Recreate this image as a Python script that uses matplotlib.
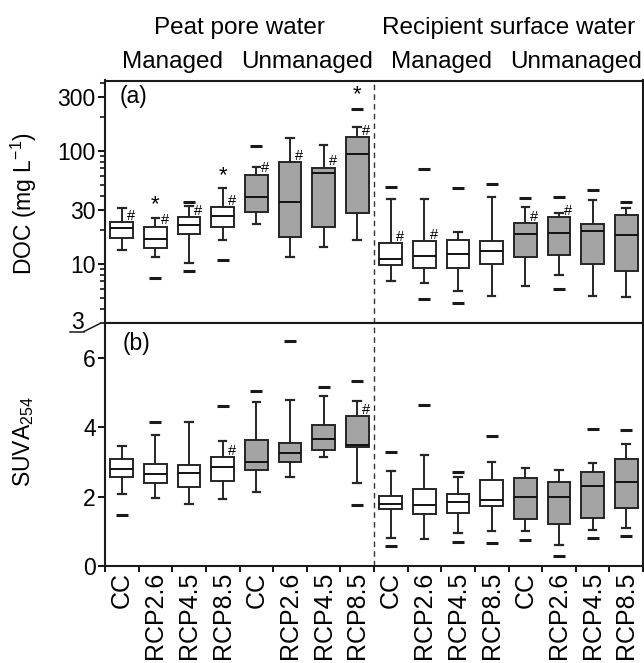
import matplotlib
matplotlib.use("Agg")
import matplotlib.pyplot as plt
import matplotlib.transforms as mtransforms
from matplotlib.lines import Line2D
from matplotlib.ticker import LogLocator, FixedLocator, NullFormatter, FixedFormatter

plt.rcParams['font.family'] = ['Liberation Sans', 'DejaVu Sans']
plt.rcParams['mathtext.fontset'] = 'custom'
plt.rcParams['mathtext.rm'] = 'Liberation Sans'
plt.rcParams['mathtext.it'] = 'Liberation Sans:italic'

# ---------------- data ----------------
scenarios = ["CC", "RCP2.6", "RCP4.5", "RCP8.5"] * 4
group_top = ["Peat pore water", "Recipient surface water"]
group_sub = ["Managed", "Unmanaged", "Managed", "Unmanaged"]
shaded = [False] * 4 + [True] * 4 + [False] * 4 + [True] * 4

# (a) DOC, mg L-1
doc_med = [20.7, 16.6, 22.1, 26.7, 39.4, 35.6, 63.5, 94.0, 11.0, 11.8, 12.3, 12.9, 18.4, 18.9, 19.7, 18.1]
doc_q1 = [16.9, 13.8, 18.3, 21.4, 29.0, 17.2, 21.1, 28.4, 9.8, 9.2, 9.2, 10.0, 11.6, 12.0, 10.0, 8.7]
doc_q3 = [23.4, 21.4, 25.9, 32.1, 61.3, 79.4, 70.3, 132.0, 15.4, 16.0, 16.3, 16.1, 22.9, 25.9, 22.6, 27.2]
doc_lo = [13.3, 11.6, 10.1, 16.3, 22.6, 11.5, 14.1, 16.3, 7.1, 6.8, 5.8, 5.2, 6.4, 8.0, 5.2, 5.1]
doc_hi = [31.5, 25.5, 32.8, 46.8, 71.7, 129.5, 113.0, 164.0, 37.4, 37.4, 19.3, 39.4, 31.8, 28.1, 36.8, 31.1]
doc_out = [[], [7.5], [35.6, 8.7], [10.8], [110.7], [], [], [234.0], [48.3], [69.3, 4.9], [46.8, 4.5],
           [51.0], [38.1], [39.4, 6.0], [45.2], [35.6]]
doc_star_idx = [1, 3, 7]
doc_star_val = [38.9, 68.9, 359.0]
doc_hash_idx = [0, 1, 2, 3, 4, 5, 6, 7, 8, 9, 12, 13]
doc_hash_val = [27.2, 24.9, 29.7, 36.8, 71.8, 92.2, 83.3, 153.0, 17.8, 18.4, 26.6, 29.7]

# (b) SUVA254
suva_med = [2.78, 2.66, 2.69, 2.85, 2.99, 3.25, 3.65, 3.49, 1.80, 1.76, 1.85, 1.91, 2.00, 2.00, 2.30, 2.41]
suva_q1 = [2.56, 2.40, 2.28, 2.46, 2.76, 3.01, 3.34, 3.43, 1.64, 1.51, 1.53, 1.72, 1.36, 1.22, 1.37, 1.67]
suva_q3 = [3.07, 2.95, 2.90, 3.14, 3.63, 3.53, 4.07, 4.33, 2.03, 2.22, 2.06, 2.49, 2.54, 2.42, 2.71, 3.07]
suva_lo = [2.06, 1.96, 1.80, 1.93, 2.14, 2.56, 3.14, 2.38, 0.82, 0.79, 0.95, 1.00, 1.02, 0.61, 1.04, 1.09]
suva_hi = [3.46, 3.77, 4.14, 3.59, 4.73, 4.79, 4.89, 4.76, 2.75, 3.19, 2.55, 3.01, 2.81, 2.76, 2.98, 3.51]
suva_out = [[1.48], [4.14], [], [4.60], [5.03], [6.47], [5.17], [5.32, 1.75], [3.27, 0.58], [4.64],
            [2.71, 0.68], [3.75, 0.66], [0.75], [0.29], [3.94, 0.82], [3.91, 0.85]]
suva_hash_idx = [3, 7]
suva_hash_val = [3.34, 4.52]

doc_yticks = [10, 30, 100, 300]
doc_ymin = 3
suva_yticks = [0, 2, 4, 6]

# ---------------- figure ----------------
W, H = 644, 663
fig = plt.figure(figsize=(W / 100, H / 100), dpi=100)
L, R = 105, 643
T1, B1, B2 = 80.5, 323, 566
ax1 = fig.add_axes([L / W, 1 - B1 / H, (R - L) / W, (B1 - T1) / H])
ax2 = fig.add_axes([L / W, 1 - B2 / H, (R - L) / W, (B2 - B1) / H])

FS = 16.5
FSH = 17.5
FSX = 18
EC = '#262626'
GRAY = '#a4a4a4'
positions = [i + 0.5 for i in range(16)]


def make_stats(med, q1, q3, lo, hi, out):
    return [dict(med=m, q1=a, q3=b, whislo=l, whishi=h, fliers=f)
            for m, a, b, l, h, f in zip(med, q1, q3, lo, hi, out)]


def draw(ax, stats):
    bp = ax.bxp(stats, positions=positions, widths=0.68, patch_artist=True, capwidths=0.22,
                boxprops=dict(edgecolor=EC, linewidth=1.4),
                medianprops=dict(color='#111111', linewidth=1.4),
                whiskerprops=dict(color=EC, linewidth=1.4),
                capprops=dict(color=EC, linewidth=1.6),
                flierprops=dict(marker='_', markersize=9, markeredgewidth=2.2,
                                markeredgecolor='#1a1a1a', linestyle='none'))
    for patch, s in zip(bp['boxes'], shaded):
        patch.set_facecolor(GRAY if s else 'white')
    return bp


draw(ax1, make_stats(doc_med, doc_q1, doc_q3, doc_lo, doc_hi, doc_out))
draw(ax2, make_stats(suva_med, suva_q1, suva_q3, suva_lo, suva_hi, suva_out))

# axis (a)
ax1.set_yscale('log')
ax1.set_ylim(doc_ymin, 419)
ax1.set_xlim(0, 16)
ax1.yaxis.set_major_locator(FixedLocator(doc_yticks))
ax1.yaxis.set_major_formatter(FixedFormatter([str(v) for v in doc_yticks]))
ax1.yaxis.set_minor_locator(LogLocator(base=10, subs=range(2, 10)))
ax1.yaxis.set_minor_formatter(NullFormatter())
ax1.tick_params(axis='x', which='both', bottom=False, labelbottom=False)
ax1.tick_params(axis='y', which='major', direction='out', length=4.7, width=1.3, labelsize=FS, pad=2)
ax1.tick_params(axis='y', which='minor', direction='out', length=3.5, width=1.1)

# axis (b)
ax2.set_ylim(0, 7)
ax2.set_xlim(0, 16)
ax2.set_yticks(suva_yticks)
ax2.set_xticks(range(17))
ax2.set_xticklabels([])
ax2.set_xticks(positions, minor=True)
ax2.set_xticklabels(scenarios, minor=True, rotation=90, ha='center', va='top')
ax2.tick_params(axis='x', which='minor', length=0, labelsize=FSX, pad=4)
ax2.tick_params(axis='x', which='major', direction='out', length=4.5, width=1.3)
ax2.tick_params(axis='y', direction='out', length=4.7, width=1.3, labelsize=FS, pad=2)

for ax in (ax1, ax2):
    for sp in ax.spines.values():
        sp.set_linewidth(1.5)
        sp.set_color('#1a1a1a')
    ax.axvline(8, color='#333333', linewidth=1.0, linestyle=(0, (4, 3)))

# significance marks
for i, v in zip(doc_star_idx, doc_star_val):
    ax1.annotate('*', xy=(positions[i], v), xytext=(0, -9), textcoords='offset points',
                 ha='center', va='baseline', fontsize=16)
for i, v in zip(doc_hash_idx, doc_hash_val):
    ax1.annotate('#', xy=(positions[i] + 0.27, v), xytext=(0, -3.6), textcoords='offset points',
                 ha='center', va='baseline', fontsize=10.5)
for i, v in zip(suva_hash_idx, suva_hash_val):
    ax2.annotate('#', xy=(positions[i] + 0.27, v), xytext=(0, -3.6), textcoords='offset points',
                 ha='center', va='baseline', fontsize=10.5)

# panel labels
ax1.text(0.028, 0.933, '(a)', transform=ax1.transAxes, ha='left', va='center', fontsize=FS)
ax2.text(0.033, 0.916, '(b)', transform=ax2.transAxes, ha='left', va='center', fontsize=FS)

# y labels
fig.text(24 / W, 1 - 204 / H, 'DOC (mg L$^{-1}$)', rotation=90, ha='center', va='center', fontsize=FS)
fig.text(24 / W, 1 - 442 / H, 'SUVA$_{254}$', rotation=90, ha='center', va='center', fontsize=FS)

# group headers
bt = mtransforms.blended_transform_factory(ax1.transData, fig.transFigure)
fig.text(4, 1 - 28 / H, group_top[0], transform=bt, ha='center', va='center', fontsize=FSH)
fig.text(12, 1 - 28 / H, group_top[1], transform=bt, ha='center', va='center', fontsize=FSH)
for k, lab in enumerate(group_sub):
    fig.text(2 + 4 * k, 1 - 62 / H, lab, transform=bt, ha='center', va='center', fontsize=FSH)


# axis break mark with the lower limit label "3"
def fx(px):
    return px / W


def fy(py):
    return 1 - py / H


fig.text(fx(77), fy(322.5), str(doc_ymin), ha='center', va='center', fontsize=FS)
fig.add_artist(Line2D([fx(70), fx(84)], [fy(331.5), fy(331.5)], color='#1a1a1a', linewidth=1.1))
fig.add_artist(Line2D([fx(84), fx(100)], [fy(331.5), fy(323.5)], color='#1a1a1a', linewidth=1.1))

fig.savefig('out.png', dpi=100)
